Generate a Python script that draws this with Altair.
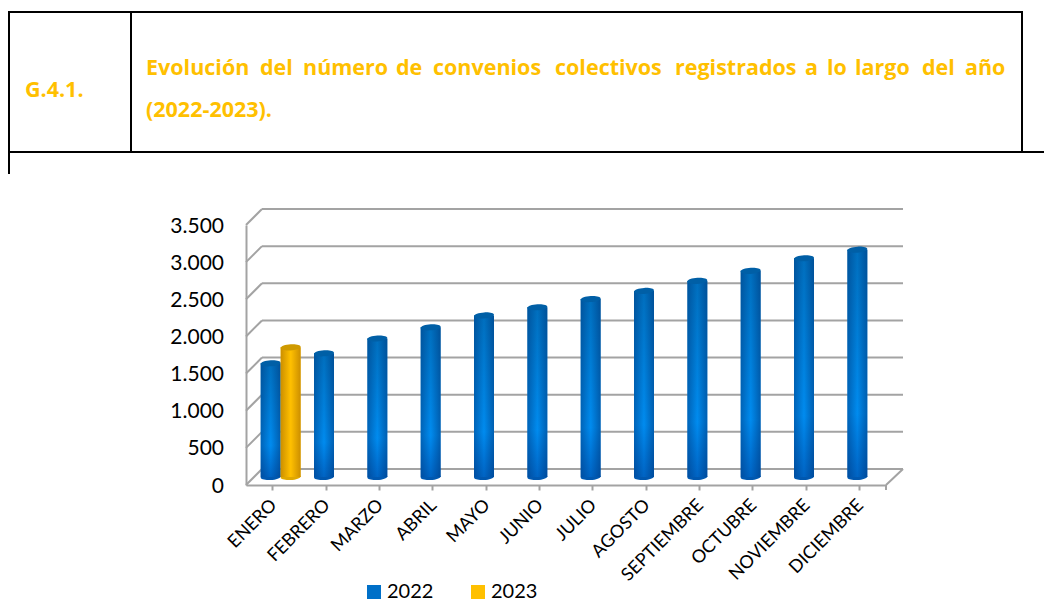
import altair as alt
import pandas as pd

months = ["ENERO", "FEBRERO", "MARZO", "ABRIL", "MAYO", "JUNIO", "JULIO", "AGOSTO",
          "SEPTIEMBRE", "OCTUBRE", "NOVIEMBRE", "DICIEMBRE"]
values_2022 = [1530, 1665, 1865, 2015, 2175, 2285, 2395, 2505, 2640, 2775, 2945, 3060]
months_2023 = ["ENERO"]
values_2023 = [1745]
y_ticks = [0, 500, 1000, 1500, 2000, 2500, 3000, 3500]
y_tick_labels = ["0", "500", "1.000", "1.500", "2.000", "2.500", "3.000", "3.500"]
series = ["2022", "2023"]
series_colors = ["#0070C8", "#FFC000"]

title_code = "G.4.1."
title_words = ["Evolución", "del", "número", "de", "convenios", "colectivos",
               "registrados", "a", "lo", "largo", "del", "año"]
title_word_x = [146, 260, 303, 396, 433, 555, 675, 805, 827, 855, 922, 965]
title_line2 = "(2022-2023)."

df22 = pd.DataFrame({"mes": months, "valor": values_2022, "serie": "2022"})
df23 = pd.DataFrame({"mes": months_2023, "valor": values_2023, "serie": "2023"})
dfall = pd.concat([df22, df23])
dft = pd.DataFrame({"valor": y_ticks, "etiqueta": y_tick_labels})

W, H = 640, 260
OX, OY = 246, 225   # plot origin on the page
GREY = "#A3A3A3"
FONT = "Lato"
DEPTH = 16
BASE = -8
ELL = "M -1 0.06 A 1 0.3 -4 1 1 1 -0.06 A 1 0.3 -4 1 1 -1 0.06 Z"

x_enc = alt.X("mes:N", sort=months, title=None,
              scale=alt.Scale(domain=months, paddingInner=0, paddingOuter=0),
              axis=alt.Axis(labelAngle=-45, labelFont=FONT, labelFontSize=18, labelColor="#000",
                            labelPadding=6, labelAlign="right", labelBaseline="top", labelOffset=-5,
                            domainColor=GREY, domainWidth=2, tickColor=GREY, tickWidth=2, tickSize=5,
                            grid=False, labelOverlap=False))
y_enc = alt.Y("valor:Q", title=None,
              scale=alt.Scale(domain=[0, 3500], nice=False),
              axis=alt.Axis(values=y_ticks, labels=False, ticks=False, domainColor=GREY,
                            domainWidth=2, grid=False))


def grad_v(stops):
    return {"gradient": "linear", "x1": 0, "y1": 0, "x2": 0, "y2": 1,
            "stops": [{"offset": o, "color": c} for o, c in stops]}


def grad_h(stops):
    return {"gradient": "linear", "x1": 0, "y1": 0, "x2": 1, "y2": 0,
            "stops": [{"offset": o, "color": c} for o, c in stops]}


def cylinder(df, dx, body, shade, top, bottom):
    common = dict(xOffset=dx, yOffset=BASE, y2Offset=BASE, size=20)
    b1 = alt.Chart(df).mark_bar(color=body, **common).encode(x=x_enc, y=y_enc)
    b2 = alt.Chart(df).mark_bar(color=shade, **common).encode(x=x_enc, y=y_enc)
    foot = alt.Chart(df).mark_point(filled=True, shape=ELL, size=400, opacity=1, color=bottom,
                                    xOffset=dx, yOffset=BASE).encode(x=x_enc, y=alt.datum(0))
    cap = alt.Chart(df).mark_point(filled=True, shape=ELL, size=400, opacity=1, color=top,
                                   xOffset=dx, yOffset=BASE).encode(x=x_enc, y=y_enc)
    return [foot, b1, b2, cap]


blue = cylinder(
    df22, -2,
    grad_v([(0, "#006FBE"), (0.72, "#008CF0"), (1, "#0064C4")]),
    grad_h([(0, "rgba(0,50,115,0.45)"), (0.5, "rgba(0,50,115,0)"), (1, "rgba(0,50,115,0.5)")]),
    "#005FA6", "#0058B0")
gold = cylinder(
    df23, 18,
    grad_v([(0, "#FFC000"), (1, "#FFC000")]),
    grad_h([(0, "rgba(170,110,0,0.6)"), (0.5, "rgba(170,110,0,0)"), (1, "rgba(170,110,0,0.6)")]),
    "#CF9A00", "#E0A800")

grid = alt.Chart(dft).mark_rule(color=GREY, strokeWidth=2, yOffset=-DEPTH).encode(
    y=y_enc, x=alt.value(DEPTH), x2=alt.value(W + DEPTH + 1))
slant = alt.Chart(dft).mark_rule(color=GREY, strokeWidth=2, y2Offset=-DEPTH).encode(
    y=y_enc, y2=alt.Y2("valor:Q"), x=alt.value(0), x2=alt.value(DEPTH))
floor_right = alt.Chart(pd.DataFrame({"valor": [0]})).mark_rule(color=GREY, strokeWidth=2, y2Offset=-DEPTH).encode(
    y=y_enc, y2=alt.Y2("valor:Q"), x=alt.value(W), x2=alt.value(W + DEPTH + 1))
end_tick = alt.Chart().mark_rule(color=GREY, strokeWidth=2).encode(
    x=alt.value(W), y=alt.value(H), y2=alt.value(H + 5))
y_labels = alt.Chart(dft).mark_text(align="right", baseline="middle", font=FONT, fontSize=21,
                                    color="#000", dy=1.5).encode(
    y=y_enc, x=alt.value(-22), text="etiqueta:N")

legend_layer = alt.Chart(dfall).mark_square(opacity=0, size=1).encode(
    x=x_enc, y=y_enc,
    color=alt.Color("serie:N", title=None,
                    scale=alt.Scale(domain=series, range=series_colors),
                    legend=alt.Legend(orient="none", legendX=118, legendY=357, direction="horizontal",
                                      symbolType="square", symbolSize=196, symbolOpacity=1,
                                      symbolStrokeWidth=0, labelFont=FONT, labelFontSize=20,
                                      labelColor="#000", columnPadding=34, labelOffset=3, padding=0)))


def hline(x1, x2, y):
    return alt.Chart().mark_rule(color="#000", strokeWidth=2).encode(
        x=alt.value(x1 - OX), x2=alt.value(x2 - OX), y=alt.value(y - OY))


def vline(x, y1, y2):
    return alt.Chart().mark_rule(color="#000", strokeWidth=2).encode(
        x=alt.value(x - OX), y=alt.value(y1 - OY), y2=alt.value(y2 - OY))


def label(txt, x, y, size=21.5):
    return alt.Chart().mark_text(align="left", baseline="alphabetic", font="Open Sans", fontWeight="bold",
                                 fontSize=size, color="#FFC000").encode(
        x=alt.value(x - OX), y=alt.value(y - OY), text=alt.value(txt))


frame = [hline(8, 1023, 12), hline(8, 1052, 152), vline(9, 11, 174), vline(131, 11, 152), vline(1022, 11, 152)]
texts = [label(title_code, 25, 97), label(title_line2, 146, 117)]
texts += [label(w, x, 75) for w, x in zip(title_words, title_word_x)]

chart = alt.layer(
    grid, slant, floor_right, end_tick, y_labels, legend_layer, *blue, *gold, *frame, *texts
).properties(
    width=W, height=H,
    padding={"left": OX - 8, "top": OY - 8, "right": 1036 - (OX - 8) - W, "bottom": 601 - 8 - (OY - 8) - H},
    autosize=alt.AutoSizeParams(type="none"),
    background="white",
).configure_view(stroke=None)

chart.save("out.html", embed_options={"renderer": "svg", "actions": False})
